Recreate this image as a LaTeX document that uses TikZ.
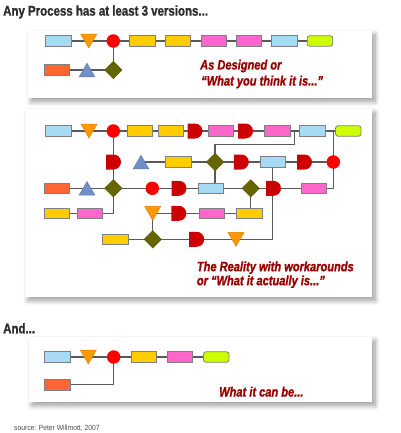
\documentclass[tikz,border=0pt]{standalone}
\usepackage{fontspec}
\usetikzlibrary{shapes.geometric,shapes.misc,shadows.blur}
\newfontfamily\headfont[FakeStretch=0.82, FakeBold=1.2, ItalicFont={Liberation Sans Bold Italic}]{Liberation Sans Bold}
\newfontfamily\srcfont[FakeStretch=0.9]{Liberation Sans}
\definecolor{lblue}{RGB}{166,218,245}
\definecolor{yel}{RGB}{255,204,0}
\definecolor{pnk}{RGB}{255,102,204}
\definecolor{lmg}{RGB}{204,255,0}
\definecolor{orred}{RGB}{255,102,51}
\definecolor{orng}{RGB}{255,153,0}
\definecolor{bluet}{RGB}{112,144,200}
\definecolor{olv}{RGB}{102,102,0}
\definecolor{redc}{RGB}{255,0,0}
\definecolor{redd}{RGB}{204,0,0}
\definecolor{txtred}{RGB}{153,0,0}
\definecolor{wire}{RGB}{90,90,90}
\definecolor{boxgray}{RGB}{128,128,128}
\definecolor{headgray}{RGB}{45,45,45}
\pgfdeclarelayer{panels}
\pgfdeclarelayer{wires}
\pgfsetlayers{panels,wires,main}
\begin{document}
\begin{tikzpicture}[x=1pt,y=-1pt,
  box/.style={draw=boxgray, line width=0.8pt, minimum width=25.5pt, minimum height=10.5pt, inner sep=0pt},
  lbx/.style={box, fill=lblue},
  ylx/.style={box, fill=yel},
  pkx/.style={box, fill=pnk},
  orx/.style={box, fill=orred},
  lmx/.style={box, fill=lmg, rounded corners=2.5pt},
  dtri/.style={regular polygon, regular polygon sides=3, shape border rotate=180, minimum size=18.5pt, inner sep=0pt, fill=orng, draw=orng!85!black, line width=0.5pt, yshift=2.3pt},
  utri/.style={regular polygon, regular polygon sides=3, minimum size=18pt, inner sep=0pt, fill=bluet, draw=bluet!85!black, line width=0.5pt, yshift=-2.3pt},
  circ/.style={circle, minimum size=13.5pt, inner sep=0pt, fill=redc},
  dia/.style={diamond, minimum size=17.5pt, inner sep=0pt, fill=olv, draw=olv!85!black, line width=0.5pt},
  dsh/.style={rounded rectangle, rounded rectangle left arc=none, minimum width=15pt, minimum height=15pt, inner sep=0pt, fill=redd},
  wirestyle/.style={draw=wire, line width=1.1pt},
  panel/.style={fill=white, blur shadow={shadow xshift=3pt, shadow yshift=-3.5pt, shadow blur radius=5pt, shadow blur steps=10, shadow opacity=40}},
  head/.style={font=\headfont\fontsize{14}{16}\selectfont, text=headgray, anchor=west, inner sep=0pt},
  redtxt/.style={font=\headfont\fontsize{13.5}{16}\selectfont\itshape, text=txtred, anchor=west, inner sep=0pt},
  srctxt/.style={font=\srcfont\fontsize{7.5}{9}\selectfont, text=headgray!85, anchor=west, inner sep=0pt}
]
\useasboundingbox (0,0) rectangle (400,433);
\begin{pgfonlayer}{panels}
  \fill[panel] (28,31) rectangle (372,98);
  \fill[panel] (25,109) rectangle (372,297);
  \fill[panel] (29,337) rectangle (372,402);
\end{pgfonlayer}

% headings
\node[head] (title) at (3,12) {Any Process has at least 3 versions...};
\node[head] (and) at (3,328.3) {And...};
\node[srctxt] (src) at (14,428.3) {source: Peter Willmott, 2007};

% ---------- panel 1 ----------
\node[lbx] (p1) at (58.3,41) {};
\node[dtri] (p2) at (88.7,41) {};
\node[circ] (p3) at (113.3,41) {};
\node[ylx] (p4) at (142.5,41) {};
\node[ylx] (p5) at (178,41) {};
\node[pkx] (p6) at (214,41) {};
\node[pkx] (p7) at (249,41) {};
\node[lbx] (p8) at (284.5,41) {};
\node[lmx] (p9) at (320,41) {};
\node[orx] (q1) at (57,70) {};
\node[utri] (q2) at (87,70) {};
\node[dia] (q3) at (113.3,70) {};
\node[redtxt] (t1) at (200,66) {As Designed or};
\node[redtxt] (t2) at (201,82) {“What you think it is...”};
\begin{pgfonlayer}{wires}
  \draw[wirestyle] (p1.center) -- (p9.center);
  \draw[wirestyle] (q1.center) -- (q3.center);
  \draw[wirestyle] (p3.center) -- (q3.center);
\end{pgfonlayer}

% ---------- panel 2 ----------
\node[lbx] (a1) at (58.3,131) {};
\node[dtri] (a2) at (89,131) {};
\node[circ] (a3) at (113.3,131) {};
\node[ylx] (a4) at (139.7,131) {};
\node[ylx] (a5) at (171,131) {};
\node[dsh] (a6) at (195,131) {};
\node[pkx] (a7) at (221,131) {};
\node[dsh] (a8) at (245.5,131) {};
\node[pkx] (a9) at (277.5,131) {};
\node[lbx] (a10) at (312.5,131) {};
\node[lmx] (a11) at (348.3,131) {};

\node[dsh] (b1) at (113.5,162) {};
\node[utri] (b2) at (141,162) {};
\node[ylx] (b3) at (178.2,162) {};
\node[dia] (b4) at (215,162) {};
\node[dsh] (b5) at (241.3,162) {};
\node[lbx] (b6) at (272.7,162) {};
\node[dsh] (b7) at (304.5,162) {};
\node[circ] (b8) at (333.3,162) {};

\node[orx] (c1) at (57,188.3) {};
\node[utri] (c2) at (87,188.3) {};
\node[dia] (c3) at (113.3,188.3) {};
\node[circ] (c4) at (152.3,188.3) {};
\node[dsh] (c5) at (179,188.3) {};
\node[lbx] (c6) at (210.8,188.3) {};
\node[dia] (c7) at (250.7,188.3) {};
\node[dsh] (c8) at (273.5,188.3) {};
\node[pkx] (c9) at (313.7,188.3) {};

\node[ylx] (d1) at (57,213.3) {};
\node[pkx] (d2) at (90,213.3) {};
\node[dtri] (d3) at (152.7,213.3) {};
\node[dsh] (d4) at (178.8,213.3) {};
\node[pkx] (d5) at (211.8,213.3) {};
\node[ylx] (d6) at (249.2,213.3) {};

\node[ylx] (e1) at (115.2,239.3) {};
\node[dia] (e2) at (152.7,239.3) {};
\node[dsh] (e3) at (196.7,239.3) {};
\node[dtri] (e4) at (236,239.3) {};

\coordinate (j1) at (294.3,131);
\coordinate (j2) at (333.3,131);

\node[redtxt] (t3) at (196.7,267.7) {The Reality with workarounds};
\node[redtxt] (t4) at (196.7,281.7) {or “What it actually is...”};

\begin{pgfonlayer}{wires}
  \draw[wirestyle] (a1.center) -- (a11.center);
  \draw[wirestyle] (b3.center -| b2.center) -- (b8.center);
  \draw[wirestyle] (c1.center) -- (c9.center);
  \draw[wirestyle] (d1.center) -- (d2.center);
  \draw[wirestyle] (d4.center -| d3.center) -- (d6.center);
  \draw[wirestyle] (a3.center) -- (c3.center) |- (d2.center);
  \draw[wirestyle] (j1) -- ++(0,13.3) -| (b4.center);
  \draw[wirestyle] (b4.center) -- (b4.center |- c6.center);
  \draw[wirestyle] (j2) -- (b8.center) |- (c9.center);
  \draw[wirestyle] (c7.center) -- (c7.center |- d6.center);
  \draw[wirestyle] (d4.center -| d3.center) -- (e2.center);
  \draw[wirestyle] (e1.center) -- (e1.center -| b6.center) -- (b6.center);
\end{pgfonlayer}

% ---------- panel 3 ----------
\node[lbx] (r1) at (57.2,357) {};
\node[dtri] (r2) at (88.3,357) {};
\node[circ] (r3) at (113.7,357) {};
\node[ylx] (r4) at (144,357) {};
\node[pkx] (r5) at (180,357) {};
\node[lmx] (r6) at (216.3,357) {};
\node[orx] (s1) at (57.2,384.7) {};
\node[redtxt] (t5) at (219,391.7) {What it can be...};
\begin{pgfonlayer}{wires}
  \draw[wirestyle] (r1.center) -- (r6.center);
  \draw[wirestyle] (s1.center) -| (r3.center);
\end{pgfonlayer}
\end{tikzpicture}
\end{document}
